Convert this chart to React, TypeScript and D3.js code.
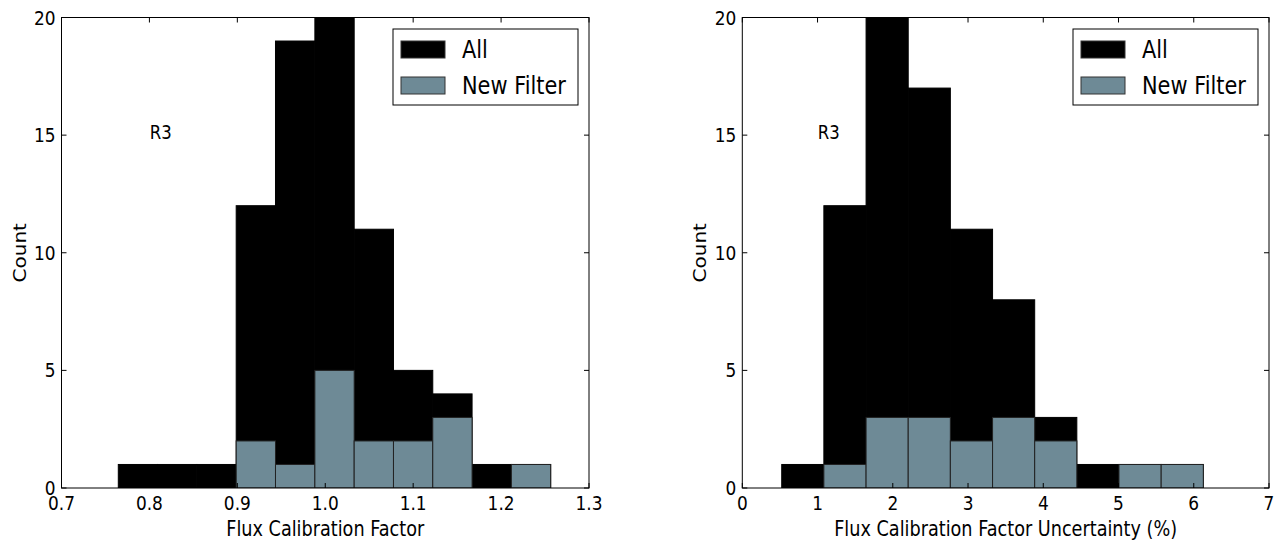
import React from "react";
import * as d3 from "d3";

// ---------- data ----------
const leftEdges = [0.7646, 0.8093, 0.854, 0.8987, 0.9434, 0.9882, 1.0329, 1.0776, 1.1223, 1.167, 1.2117, 1.2564];
const leftAll = [1, 1, 1, 12, 19, 20, 11, 5, 4, 1, 1];
const leftNew = [0, 0, 0, 2, 1, 5, 2, 2, 3, 0, 1];
const leftXTicks = [0.7, 0.8, 0.9, 1.0, 1.1, 1.2, 1.3];
const leftXTickLabels = ["0.7", "0.8", "0.9", "1.0", "1.1", "1.2", "1.3"];
const leftNoteX = 0.813;

const rightEdges = [0.524, 1.084, 1.645, 2.205, 2.765, 3.326, 3.886, 4.446, 5.006, 5.567, 6.127];
const rightAll = [1, 12, 20, 17, 11, 8, 3, 1, 1, 1];
const rightNew = [0, 1, 3, 3, 2, 3, 2, 0, 1, 1];
const rightXTicks = [0, 1, 2, 3, 4, 5, 6, 7];
const rightXTickLabels = ["0", "1", "2", "3", "4", "5", "6", "7"];
const rightNoteX = 1.15;

const noteY = 14.85;
const yTicks = [0, 5, 10, 15, 20];
const seriesNames = ["All", "New Filter"];
const seriesColors = ["#000000", "#6e8a96"];

const FONT = "'DejaVu Sans', sans-serif";
const SX = 0.87;

type PanelProps = {
  x0: number;
  x1: number;
  xDomain: [number, number];
  edges: number[];
  all: number[];
  nf: number[];
  xTicks: number[];
  xTickLabels: string[];
  xLabel: string;
  noteX: number;
  legendW: number;
};

const TOP = 17.5;
const BOTTOM = 488;

function T({ x, y, anchor = "start", size, children, rotate = false }: any) {
  const tr = rotate
    ? `translate(${x},${y}) scale(${SX},1) rotate(-90)`
    : `translate(${x},${y}) scale(${SX},1)`;
  return (
    <text transform={tr} textAnchor={anchor} fontFamily={FONT} fontSize={size} fill="#000">
      {children}
    </text>
  );
}

function Panel(p: PanelProps) {
  const x = d3.scaleLinear().domain(p.xDomain).range([p.x0, p.x1]);
  const y = d3.scaleLinear().domain([0, 20]).range([BOTTOM, TOP]);
  const bins = (vals: number[]) =>
    vals.map((v, i) => ({ x0: p.edges[i], x1: p.edges[i + 1], v }));
  const tick = 5;
  const legX = p.x1 - 11 - p.legendW;
  const legY = 29;
  const cid = `clip${Math.round(p.x0)}`;
  return (
    <g>
      <defs>
        <clipPath id={cid}>
          <rect x={p.x0} y={TOP} width={p.x1 - p.x0} height={BOTTOM - TOP} />
        </clipPath>
      </defs>
      <g clipPath={`url(#${cid})`}>
        {bins(p.all).map((b, i) =>
          b.v > 0 ? (
            <rect
              key={"a" + i}
              x={x(b.x0)}
              y={y(b.v)}
              width={x(b.x1) - x(b.x0)}
              height={y(0) - y(b.v)}
              fill={seriesColors[0]}
              stroke="#000"
              strokeWidth={1}
            />
          ) : null
        )}
        {bins(p.nf).map((b, i) =>
          b.v > 0 ? (
            <rect
              key={"n" + i}
              x={x(b.x0)}
              y={y(b.v)}
              width={x(b.x1) - x(b.x0)}
              height={y(0) - y(b.v)}
              fill={seriesColors[1]}
              stroke="#222"
              strokeWidth={1}
            />
          ) : null
        )}
      </g>
      {/* ticks */}
      {p.xTicks.map((t, i) => (
        <g key={"xt" + i}>
          <line x1={x(t)} x2={x(t)} y1={BOTTOM} y2={BOTTOM - tick} stroke="#000" />
          <line x1={x(t)} x2={x(t)} y1={TOP} y2={TOP + tick} stroke="#000" />
          <T x={x(t)} y={510} anchor="middle" size={19.5}>
            {p.xTickLabels[i]}
          </T>
        </g>
      ))}
      {yTicks.map((t, i) => (
        <g key={"yt" + i}>
          <line x1={p.x0} x2={p.x0 + tick} y1={y(t)} y2={y(t)} stroke="#000" />
          <line x1={p.x1} x2={p.x1 - tick} y1={y(t)} y2={y(t)} stroke="#000" />
          <T x={p.x0 - 6} y={y(t) + 7} anchor="end" size={19.5}>
            {String(t)}
          </T>
        </g>
      ))}
      <rect x={p.x0} y={TOP} width={p.x1 - p.x0} height={BOTTOM - TOP} fill="none" stroke="#000" strokeWidth={1} />
      {/* labels */}
      <T x={(p.x0 + p.x1) / 2} y={536} anchor="middle" size={20.3}>
        {p.xLabel}
      </T>
      <T x={p.x0 - 36} y={(TOP + BOTTOM) / 2} anchor="middle" size={20} rotate>
        Count
      </T>
      <T x={x(p.noteX)} y={y(noteY)} anchor="middle" size={19}>
        R3
      </T>
      {/* legend */}
      <rect x={legX} y={legY} width={p.legendW} height={76} fill="#fff" stroke="#000" strokeWidth={1} />
      {seriesNames.map((s, i) => (
        <g key={s}>
          <rect
            x={legX + 8}
            y={legY + 12 + i * 36}
            width={44}
            height={17}
            fill={seriesColors[i]}
            stroke="#333"
          />
          <T x={legX + 69} y={legY + 29 + i * 36} size={24}>
            {s}
          </T>
        </g>
      ))}
    </g>
  );
}

export default function App() {
  return (
    <svg
      width={1278}
      height={541}
      style={{ position: "absolute", left: 0, top: 0, background: "#fff" }}
    >
      <rect x={0} y={0} width={1278} height={541} fill="#fff" />
      <Panel
        x0={61.5}
        x1={589}
        xDomain={[0.7, 1.3]}
        edges={leftEdges}
        all={leftAll}
        nf={leftNew}
        xTicks={leftXTicks}
        xTickLabels={leftXTickLabels}
        xLabel="Flux Calibration Factor"
        noteX={leftNoteX}
        legendW={185}
      />
      <Panel
        x0={742.3}
        x1={1269}
        xDomain={[0, 7]}
        edges={rightEdges}
        all={rightAll}
        nf={rightNew}
        xTicks={rightXTicks}
        xTickLabels={rightXTickLabels}
        xLabel="Flux Calibration Factor Uncertainty (%)"
        noteX={rightNoteX}
        legendW={185}
      />
    </svg>
  );
}
